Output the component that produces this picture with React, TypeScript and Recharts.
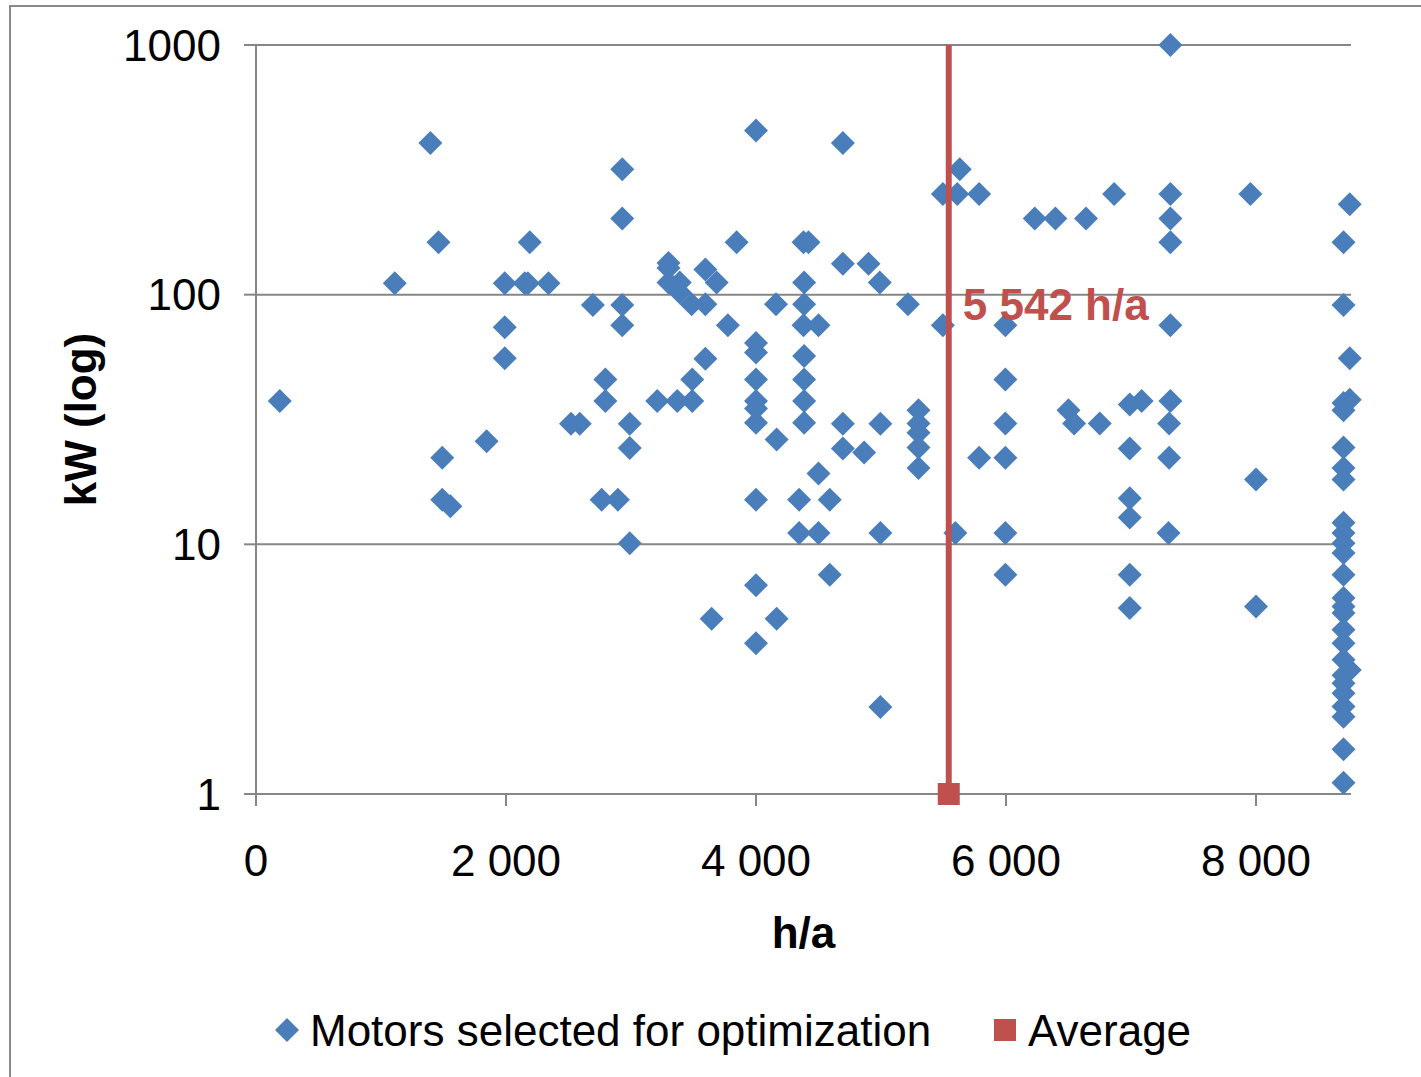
import React from 'react';
import { ScatterChart, Scatter, XAxis, YAxis, CartesianGrid, Legend, Label } from 'recharts';

const motorHours = [
  190, 1110, 1395, 1460, 1490, 1490, 1555, 1845, 1990, 1990, 1990, 2190, 2150, 2175, 2340, 2520, 2590, 2695, 2795, 2795,
  2765, 2895, 2930, 2930, 2930, 2930, 2990, 2990, 2990, 3210, 3300, 3300, 3300, 3390, 3390, 3485, 3595, 3595, 3685, 3370,
  3490, 3490, 3595, 3645, 3775, 3845, 4000, 4000, 4000, 4000, 4000, 4000, 4000, 4000, 4000, 4000, 4160, 4165, 4165, 4345,
  4345, 4380, 4420, 4385, 4385, 4380, 4385, 4385, 4385, 4385, 4500, 4500, 4500, 4590, 4590, 4695, 4695, 4695, 4695, 4865,
  4900, 4990, 4995, 4995, 4995, 5215, 5300, 5300, 5300, 5300, 5300, 5495, 5495, 5610, 5630, 5595, 5785, 5785, 5995, 5995,
  5995, 5995, 5995, 5995, 6230, 6395, 6640, 6500, 6545, 6750, 6865, 6990, 7085, 6990, 6990, 6990, 6990, 6990, 7315, 7315,
  7315, 7315, 7315, 7315, 7305, 7305, 7300, 7955, 8000, 8000, 8750, 8700, 8700, 8750, 8750, 8700, 8700, 8700, 8700, 8700,
  8700, 8700, 8700, 8700, 8700, 8700, 8700, 8700, 8700, 8700, 8700, 8750, 8700, 8700, 8700, 8700, 8700, 8700, 8700,
];

const motorKw = [
  37.5, 111, 405, 162, 22.2, 15.1, 14.2, 25.9, 111, 74, 55.6, 162, 111, 111, 111, 30.4, 30.4, 91, 45.7, 37.5,
  15.1, 15.1, 318, 202, 91, 75.5, 30.4, 24.3, 10.1, 37.5, 134, 128, 112, 112, 102, 91.5, 126, 91.5, 112, 37.5,
  37.5, 45.7, 55.4, 5.03, 75.4, 162, 454, 64, 58.6, 45.7, 37.5, 35, 30.7, 15.1, 6.85, 4.02, 91.5, 26.3, 5.03, 15.1,
  11.1, 162, 162, 112, 91.5, 75.4, 56.8, 45.7, 37.5, 30.7, 75.4, 19.2, 11.1, 15.1, 7.56, 405, 133, 30.4, 24.2, 23.3,
  133, 112, 30.4, 11.1, 2.23, 91.5, 34.4, 30.5, 28, 24.4, 20.2, 253, 75.5, 253, 318, 11.1, 253, 22.2, 75.5, 45.7,
  30.5, 22.2, 11.1, 7.55, 202, 202, 202, 34.4, 30.5, 30.5, 253, 36.3, 37.5, 24.2, 15.3, 12.8, 7.55, 5.56, 1000, 253,
  202, 162, 75.5, 37.5, 30.5, 22.2, 11.1, 253, 18.2, 5.64, 230, 162, 91, 55.6, 37.9, 36.8, 34.4, 24.4, 20.2, 18.2,
  12.2, 11.1, 10.1, 9.24, 7.55, 6.1, 5.64, 5.31, 4.55, 4.02, 3.45, 3.14, 2.99, 2.78, 2.53, 2.24, 2.04, 1.51, 1.11,
];

const averageHours = 5542;
const averageKwRange = [1, 1000];
const averageLabel = '5 542 h/a';
const averageLabelKw = 79;

const xTicks = [0, 2000, 4000, 6000, 8000];
const yTicks = [1, 10, 100, 1000];
const seriesNames = ['Motors selected for optimization', 'Average'];
const xTitle = 'h/a';
const yTitle = 'kW (log)';

const motorData = motorHours.map((h, i) => ({ x: h, y: motorKw[i] }));
const averageData = averageKwRange.map((k) => ({ x: averageHours, y: k }));
const labelData = [{ x: averageHours, y: averageLabelKw }];

const FONT = '"Liberation Sans", Arial, sans-serif';
const FS = 44;
const BLUE = '#4A7EBB';
const RED = '#C0504D';
const GRID = '#868686';

const fmtX = (v: number) => {
  if (v === 0) return '0';
  const th = Math.floor(v / 1000);
  const rest = String(v % 1000).padStart(3, '0');
  return `${th} ${rest}`;
};

const Diamond = (props: any) => {
  const { cx, cy } = props;
  if (cx == null || cy == null) return <g />;
  const r = 12;
  return <path d={`M${cx},${cy - r}L${cx + r},${cy}L${cx},${cy + r}L${cx - r},${cy}Z`} fill={BLUE} />;
};

const AvgShape = (props: any) => {
  const { cx, cy, payload } = props;
  if (!payload || payload.y !== averageKwRange[0]) return <g />;
  const s = 11;
  return <rect x={cx - s} y={cy - s} width={2 * s} height={2 * s} fill={RED} />;
};

const LabelShape = (props: any) => {
  const { cx, cy } = props;
  return (
    <text x={cx + 14} y={cy} fill={RED} fontSize={FS} fontWeight="bold" fontFamily={FONT} textAnchor="start">
      {averageLabel}
    </text>
  );
};

const renderLegend = () => (
  <svg width={1421} height={60} style={{ display: 'block' }}>
    <path d="M287,13L299,25L287,37L275,25Z" fill={BLUE} />
    <text x={310} y={41} fontSize={FS} fontFamily={FONT} fill="#000">
      {seriesNames[0]}
    </text>
    <rect x={994} y={14} width={22} height={22} fill={RED} />
    <text x={1028} y={41} fontSize={FS} fontFamily={FONT} fill="#000">
      {seriesNames[1]}
    </text>
  </svg>
);

export default function App() {
  return (
    <div style={{ position: 'absolute', left: 0, top: 0, width: 1421, height: 1077, overflow: 'hidden', background: '#fff' }}>
      <div
        style={{
          position: 'absolute',
          left: 9,
          top: 5,
          width: 1500,
          height: 1200,
          borderLeft: '2px solid #898989',
          borderTop: '2px solid #898989',
        }}
      />
      <div style={{ position: 'absolute', left: 0, top: 0 }}>
        <ScatterChart width={1421} height={1077} margin={{ top: 45, right: 70, bottom: 203, left: 0 }}>
          <CartesianGrid vertical={false} stroke={GRID} strokeWidth={2} />
          <XAxis
            type="number"
            dataKey="x"
            domain={[0, 8760]}
            ticks={xTicks}
            tickFormatter={fmtX}
            height={80}
            stroke={GRID}
            strokeWidth={2}
            tickSize={12}
            tickMargin={39}
            tick={{ fill: '#000', fontSize: FS, fontFamily: FONT }}
            tickLine={{ stroke: GRID, strokeWidth: 2 }}
            axisLine={{ stroke: GRID, strokeWidth: 2 }}
          >
            <Label
              content={(p: any) => {
                const vb = p.viewBox || { x: 256, y: 794, width: 1095 };
                return (
                  <text x={vb.x + vb.width / 2} y={948} textAnchor="middle" fontSize={FS} fontWeight="bold" fontFamily={FONT} fill="#000">
                    {xTitle}
                  </text>
                );
              }}
            />
          </XAxis>
          <YAxis
            type="number"
            dataKey="y"
            scale="log"
            domain={[1, 1000]}
            ticks={yTicks}
            width={256}
            stroke={GRID}
            strokeWidth={2}
            tickSize={12}
            tickMargin={23}
            tick={{ fill: '#000', fontSize: FS, fontFamily: FONT }}
            tickLine={{ stroke: GRID, strokeWidth: 2 }}
            axisLine={{ stroke: GRID, strokeWidth: 2 }}
          >
            <Label
              content={(p: any) => {
                const vb = p.viewBox || { y: 45, height: 749 };
                const cy = vb.y + vb.height / 2;
                return (
                  <text
                    x={80}
                    y={cy}
                    transform={`rotate(-90 80 ${cy})`}
                    textAnchor="middle"
                    dominantBaseline="central"
                    fontSize={FS}
                    fontWeight="bold"
                    fontFamily={FONT}
                    fill="#000"
                  >
                    {yTitle}
                  </text>
                );
              }}
            />
          </YAxis>
          <Legend
            layout="horizontal"
            verticalAlign="middle"
            align="center"
            wrapperStyle={{ top: 1005, left: 0, width: 1421, height: 60 }}
            content={renderLegend}
          />
          <Scatter name={seriesNames[0]} data={motorData} shape={Diamond} isAnimationActive={false} />
          <Scatter
            name={seriesNames[1]}
            data={averageData}
            shape={AvgShape}
            line={{ stroke: RED, strokeWidth: 6 }}
            isAnimationActive={false}
          />
          <Scatter name="label" data={labelData} shape={LabelShape} isAnimationActive={false} legendType="none" />
        </ScatterChart>
      </div>
    </div>
  );
}
